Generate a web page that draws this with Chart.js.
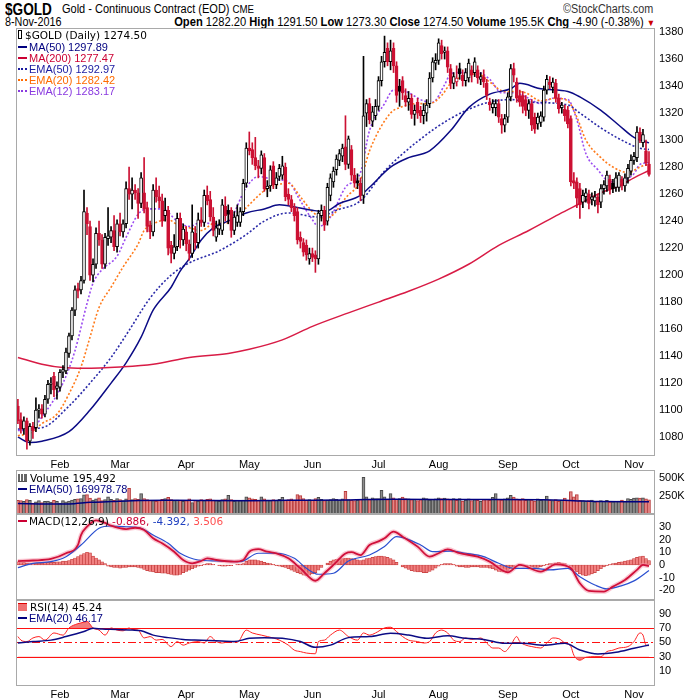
<!DOCTYPE html>
<html>
<head>
<meta charset="utf-8">
<script src="https://cdn.jsdelivr.net/npm/chart.js@4.4.1/dist/chart.umd.min.js"></script>
<style>
body{margin:0;background:#fff;}
#wrap{position:relative;width:700px;height:700px;overflow:hidden;font-family:"Liberation Sans",Arial,sans-serif;color:#000;}
canvas{position:absolute;left:0;}
.t{position:absolute;white-space:nowrap;line-height:1;}
.lg{position:absolute;left:18px;white-space:nowrap;font-size:11px;line-height:12px;}
.big{font-family:"DejaVu Sans",Verdana,sans-serif;font-size:10.5px;}
.sw{display:inline-block;width:9px;height:0;border-top:2px solid;vertical-align:middle;margin-right:2px;position:relative;top:-1px;}
.dot{border-top-style:dotted;}
</style>
</head>
<body>
<div id="wrap">
  <div class="t" style="left:5px;top:1px;font-size:17px;font-weight:bold;transform:scaleX(0.8);transform-origin:left top;">$GOLD</div>
  <div class="t" style="left:62px;top:3px;font-size:12.5px;transform:scaleX(0.88);transform-origin:left top;">Gold - Continuous Contract (EOD) <span style="font-size:11px">CME</span></div>
  <div class="t" style="right:47px;top:3px;font-size:12px;color:#333;transform:scaleX(0.9);transform-origin:right top;">©StockCharts.com</div>
  <div class="t" style="left:5px;top:16px;font-size:12px;transform:scaleX(0.9);transform-origin:left top;">8-Nov-2016</div>
  <div class="t" style="right:45px;top:16px;font-size:12px;transform:scaleX(0.93);transform-origin:right top;"><b>Open</b> 1282.20 <b>High</b> 1291.50 <b>Low</b> 1273.30 <b>Close</b> 1274.50 <b>Volume</b> 195.5K <b>Chg</b> -4.90 (-0.38%) <span style="color:#c00;font-size:9px">▼</span></div>

  <canvas id="priceChart" width="700" height="470" style="top:0"></canvas>
  <canvas id="volChart" width="700" height="44" style="top:470px"></canvas>
  <canvas id="macdChart" width="700" height="86" style="top:514px"></canvas>
  <canvas id="rsiChart" width="700" height="100" style="top:600px"></canvas>

  <div class="lg big" style="top:29px;"><span style="display:inline-block;width:2px;height:7px;border:1px solid #000;margin-right:3px;"></span>$GOLD (Daily) 1274.50</div>
  <div class="lg" style="top:41px;color:#000080;"><span class="sw"></span>MA(50) 1297.89</div>
  <div class="lg" style="top:52px;color:#cc0033;"><span class="sw"></span>MA(200) 1277.47</div>
  <div class="lg" style="top:63px;color:#1a1aa0;"><span class="sw dot"></span>EMA(50) 1292.97</div>
  <div class="lg" style="top:74px;color:#ff6a00;"><span class="sw dot"></span>EMA(20) 1282.42</div>
  <div class="lg" style="top:85px;color:#8a3ae0;"><span class="sw dot"></span>EMA(12) 1283.17</div>

  <div class="lg big" style="top:472px;"><span style="display:inline-block;width:9px;height:7px;border-bottom:1px solid #555;background:linear-gradient(90deg,#666 0 2px,#fff 2px 3px,#666 3px 5px,#fff 5px 6px,#666 6px);margin-right:3px;"></span>Volume 195,492</div>
  <div class="lg" style="top:483px;color:#000080;"><span class="sw"></span>EMA(50) 169978.78</div>

  <div class="lg big" style="top:515px;"><span class="sw" style="color:#cc0033"></span>MACD(12,26,9) <span style="color:#cc0033">-0.886,</span> <span style="color:#2040c0">-4.392,</span> <span style="color:#ff5050">3.506</span></div>

  <div class="lg big" style="top:601px;"><span style="display:inline-block;width:9px;height:7px;background:#f07070;border-top:1px solid #d00;margin-right:3px;"></span>RSI(14) 45.24</div>
  <div class="lg" style="top:612px;color:#000080;"><span class="sw"></span>EMA(20) 46.17</div>
</div>

<script>
// Месяцы на оси X (индекс первого торгового дня месяца)
const monthNames = ['Feb', 'Mar', 'Apr', 'May', 'Jun', 'Jul', 'Aug', 'Sep', 'Oct', 'Nov'];
const monthStart = [14, 34, 56, 77, 98, 120, 140, 163, 184, 205];

// Дневные свечи $GOLD, с 11 янв по 8 ноя 2016
const opens = [
  1103,1093,1086,1092,1077,1088,1087,1100,1101,1097,
  1108,1119,1125,1116,1117,1128,1129,1142,1155,1174,
  1190,1189,1196,1246,1236,1200,1208,1231,1226,1208,
  1227,1228,1233,1221,1238,1232,1238,1264,1260,1263,
  1261,1253,1261,1250,1237,1232,1263,1258,1255,1244,
  1248,1222,1216,1221,1242,1226,1232,1223,1216,1231,
  1224,1241,1239,1259,1256,1243,1228,1234,1233,1251,
  1248,1248,1233,1239,1239,1247,1268,1294,1293,1287,
  1281,1279,1287,1264,1266,1281,1267,1273,1274,1280,
  1260,1256,1250,1247,1228,1224,1222,1212,1216,1215,
  1212,1244,1248,1240,1259,1269,1278,1285,1288,1295,
  1282,1293,1274,1270,1268,1259,1320,1327,1314,1318,
  1325,1344,1358,1368,1358,1368,1355,1340,1344,1333,
  1328,1331,1319,1328,1322,1318,1320,1327,1346,1357,
  1359,1370,1365,1366,1353,1342,1343,1353,1348,1344,
  1346,1352,1350,1352,1345,1347,1342,1328,1324,1324,
  1327,1316,1311,1317,1332,1353,1343,1333,1333,1330,
  1322,1327,1317,1312,1313,1317,1337,1343,1339,1342,
  1331,1324,1323,1322,1316,1270,1269,1264,1254,1258,
  1260,1256,1255,1258,1254,1264,1266,1271,1268,1265,
  1265,1271,1266,1272,1277,1285,1287,1306,1298,1292,
  1282.2
];
const highs = [
  1108,1098,1095,1094,1090,1091,1109,1104,1104,1111,
  1122,1124,1128,1121,1130,1133,1146,1157,1176,1192,
  1194,1199,1263,1250,1240,1212,1235,1240,1230,1231,
  1250,1236,1244,1241,1246,1241,1269,1280,1272,1267,
  1264,1276,1287,1254,1240,1267,1272,1266,1260,1257,
  1251,1225,1230,1246,1246,1238,1236,1226,1252,1236,
  1246,1250,1263,1266,1262,1250,1240,1241,1256,1258,
  1252,1250,1247,1252,1250,1271,1298,1306,1298,1302,
  1285,1292,1290,1270,1281,1284,1276,1282,1288,1283,
  1264,1259,1253,1250,1232,1227,1226,1220,1220,1218,
  1248,1252,1251,1268,1275,1280,1289,1293,1297,1318,
  1303,1296,1279,1275,1272,1362,1330,1331,1325,1330,
  1347,1362,1377,1372,1374,1372,1358,1345,1347,1338,
  1336,1334,1326,1331,1325,1327,1330,1350,1361,1364,
  1375,1374,1369,1369,1356,1350,1355,1357,1352,1353,
  1360,1355,1361,1355,1350,1352,1345,1331,1330,1330,
  1330,1319,1319,1335,1356,1357,1346,1337,1336,1333,
  1330,1330,1320,1320,1321,1340,1348,1347,1346,1345,
  1334,1328,1326,1325,1318,1276,1272,1268,1263,1264,
  1263,1261,1262,1260,1267,1270,1277,1274,1271,1276,
  1276,1273,1275,1282,1289,1291,1310,1309,1308,1300,
  1291.5
];
const lows = [
  1090,1083,1082,1071,1074,1079,1084,1094,1094,1095,
  1105,1112,1110,1108,1114,1124,1127,1139,1152,1170,
  1183,1186,1194,1230,1196,1195,1205,1222,1205,1205,
  1222,1224,1218,1217,1229,1228,1235,1256,1249,1256,
  1242,1250,1246,1232,1227,1229,1254,1250,1236,1240,
  1215,1209,1212,1218,1220,1222,1218,1211,1213,1219,
  1220,1236,1236,1252,1240,1229,1225,1230,1230,1240,
  1238,1228,1230,1236,1236,1244,1265,1289,1282,1278,
  1272,1275,1262,1258,1262,1264,1264,1270,1271,1255,
  1252,1247,1240,1223,1220,1214,1211,1208,1210,1202,
  1208,1240,1233,1237,1255,1265,1274,1281,1284,1278,
  1279,1270,1265,1264,1255,1253,1310,1312,1310,1315,
  1322,1340,1354,1355,1352,1350,1328,1325,1330,1325,
  1322,1316,1311,1316,1313,1312,1314,1324,1343,1352,
  1356,1360,1360,1350,1338,1338,1340,1345,1340,1340,
  1343,1343,1347,1342,1341,1339,1330,1322,1320,1318,
  1313,1305,1306,1313,1329,1343,1328,1325,1320,1318,
  1316,1307,1305,1308,1310,1314,1334,1338,1335,1328,
  1320,1320,1314,1309,1266,1264,1250,1242,1250,1254,
  1249,1252,1251,1246,1250,1260,1262,1260,1261,1262,
  1262,1263,1262,1268,1274,1282,1284,1298,1295,1281,
  1273.3
];
const closes = [
  1092,1086,1092,1077,1088,1085,1100,1101,1097,1108,
  1119,1120,1115,1118,1128,1130,1143,1155,1174,1189,
  1188,1196,1247,1238,1200,1208,1231,1226,1208,1228,
  1229,1233,1221,1238,1232,1238,1264,1260,1263,1261,
  1253,1272,1249,1236,1232,1263,1258,1255,1240,1248,
  1220,1216,1221,1242,1226,1234,1223,1216,1232,1224,
  1241,1239,1259,1255,1243,1233,1235,1237,1252,1244,
  1245,1233,1243,1244,1247,1268,1294,1292,1287,1281,
  1279,1289,1264,1266,1278,1267,1272,1279,1281,1258,
  1256,1250,1244,1226,1225,1217,1215,1216,1213,1212,
  1246,1248,1237,1265,1272,1277,1286,1290,1294,1282,
  1301,1274,1268,1268,1259,1318,1327,1315,1321,1325,
  1344,1358,1365,1358,1366,1355,1333,1336,1335,1328,
  1331,1319,1322,1320,1318,1322,1326,1346,1358,1359,
  1372,1364,1366,1354,1342,1347,1346,1349,1344,1350,
  1357,1348,1358,1346,1347,1343,1333,1326,1327,1327,
  1317,1311,1316,1332,1353,1348,1331,1328,1325,1322,
  1327,1311,1308,1317,1318,1337,1345,1341,1343,1331,
  1323,1326,1318,1312,1269,1268,1257,1252,1259,1261,
  1253,1258,1258,1252,1264,1267,1274,1264,1264,1272,
  1274,1266,1272,1279,1285,1288,1306,1300,1304,1283,
  1274.5
];

// Скользящие средние: [день, значение]
const ma50 = [[0,1080],[4,1076],[8,1077],[17,1084],[24,1100],[31,1120],[36,1135],[41,1154],[45,1174],[51,1191],[54,1203],[57,1212],[61,1226],[65,1235],[70,1240],[76,1246],[82,1249],[87,1252],[93,1250],[98,1248],[102,1247],[107,1253],[114,1259],[117,1265],[124,1280],[130,1287],[137,1292],[144,1307],[150,1324],[157,1334],[164,1338],[167,1342],[174,1338],[183,1336],[187,1332],[194,1322],[200,1311],[205,1302],[210,1297.89]];
const ma200 = [[0,1139],[8,1134],[15,1131.5],[22,1131],[34,1132],[45,1134],[57,1139],[70,1142],[77,1145],[88,1152],[98,1162],[110,1172],[120,1180],[130,1188],[140,1197],[150,1208],[160,1222],[170,1233],[180,1245],[187,1253],[194,1261],[200,1266],[205,1272],[210,1277.47]];
const ema50 = [[0,1086],[8,1087],[17,1103],[24,1120],[31,1139],[37,1159],[44,1183],[51,1200],[57,1209],[67,1218],[76,1230],[82,1240],[90,1246],[100,1243],[106,1248],[114,1255],[122,1277],[133,1299],[144,1316],[155,1327],[164,1330],[171,1328],[183,1326],[187,1320],[194,1309],[200,1301],[207,1294],[210,1292.97]];
const ema20 = [[0,1081],[4,1083],[8,1090],[13,1097],[17,1112],[21,1132],[24,1154],[27,1176],[31,1191],[35,1206],[40,1223],[42,1233],[46,1239],[50,1241],[54,1236],[57,1235],[61,1233],[65,1238],[71,1239],[76,1250],[83,1264],[90,1268],[94,1258],[98,1247],[102,1242],[105,1245],[109,1257],[114,1270],[117,1292],[124,1320],[127,1324],[133,1327],[137,1327],[141,1333],[144,1342],[148,1347],[153,1349],[157,1343],[162,1336],[165,1336],[169,1335],[174,1329],[179,1331],[183,1329],[186,1317],[189,1300],[194,1287],[198,1280],[203,1276],[207,1280],[210,1282.42]];
const ema12 = [[0,1085],[4,1085],[8,1095],[15,1120],[19,1144],[23,1179],[25,1194],[28,1204],[33,1214],[36,1228],[40,1245],[43,1249],[48,1249],[53,1240],[57,1236],[61,1239],[65,1238],[70,1240],[76,1265],[80,1273],[85,1271],[90,1269],[94,1255],[98,1241],[100,1236],[104,1243],[109,1265],[114,1276],[117,1307],[122,1327],[125,1337],[129,1336],[135,1329],[138,1328],[142,1341],[144,1349],[147,1350],[153,1350],[157,1345],[161,1335],[165,1335],[169,1332],[174,1327],[178,1331],[183,1330],[186,1315],[189,1290],[193,1278],[197,1269],[201,1270],[205,1275],[207,1282],[210,1283.17]];

// Объём, тыс.
const volumes = [
  190,185,175,200,190,150,170,185,160,175,
  180,165,190,175,150,185,170,180,195,205,
  210,215,265,270,220,195,210,225,185,200,
  240,205,190,215,200,185,210,355,200,215,
  205,285,215,200,190,185,175,190,205,215,
  230,200,185,195,190,175,185,210,160,190,
  180,200,185,205,210,195,185,175,200,210,
  260,200,175,190,185,195,240,225,210,205,
  195,240,210,195,185,200,190,205,230,190,
  200,210,195,270,255,215,195,200,190,215,
  230,205,185,195,200,215,205,195,210,315,
  200,190,185,195,205,510,240,200,225,215,
  215,330,240,200,285,225,205,215,235,215,
  210,200,205,185,200,225,215,195,205,210,
  225,215,220,210,200,215,190,215,180,195,
  210,185,200,190,175,200,205,190,230,285,
  200,195,210,225,260,235,210,195,215,190,
  200,195,180,210,190,205,250,195,185,200,
  175,190,220,195,310,240,270,190,185,180,
  185,195,170,180,185,175,190,165,170,175,
  180,195,180,215,205,220,225,220,225,210,
  195.5
];
const volEma = [[0,145],[10,140],[17,140],[24,162],[31,172],[38,185],[50,190],[77,185],[90,190],[110,195],[125,205],[150,200],[175,198],[185,185],[195,172],[205,170],[210,170]];

// MACD(12,26,9)
const macdLine = [[0,3],[5,3.5],[11,4.7],[16,9.2],[20,15.7],[21,23.5],[23,30],[26,35],[29,33],[31,30.8],[36,28.2],[39,29.2],[42,27.5],[45,20.9],[48,17],[52,10.4],[55,3.9],[58,1.3],[61,3.1],[63,5.2],[66,3.9],[72,2.6],[75,3.9],[77,10.4],[80,12.4],[83,10.4],[86,9.1],[90,5.2],[94,-2.6],[99,-12.4],[102,-6.5],[105,0],[109,9],[111,10],[114,7.8],[117,15.7],[120,18.5],[122,20.9],[125,26.1],[128,22.2],[133,14.4],[137,6.5],[140,9.2],[143,12.3],[147,9.2],[153,6.5],[157,2.6],[163,-5.7],[167,0],[174,-5.2],[179,0.5],[184,-2.6],[187,-14.4],[190,-20.4],[195,-20.9],[198,-17],[202,-11.8],[206,-3.9],[208,0],[210,-0.886]];
const signalLine = [[0,-2.1],[5,1.3],[11,2.6],[16,6.5],[21,15.7],[27,28.8],[31,30.6],[36,30],[41,28.8],[45,23.5],[50,17],[54,9.2],[60,3.9],[66,3.1],[74,2.6],[80,9.2],[86,9.2],[92,5.2],[96,-2.6],[100,-7.3],[105,-6.5],[110,3.1],[117,7.8],[122,14.4],[126,22.2],[129,20.9],[134,15.7],[138,10.5],[144,10.9],[149,9.2],[155,6.5],[160,1.3],[165,-2.6],[172,-2.6],[177,-3.9],[183,-2.6],[187,-9.2],[192,-15.7],[196,-18.8],[201,-16.2],[205,-12.5],[210,-4.392]];
const macdHist = [
  2.5,2.5,2,1.5,1,1,1.5,
  1.5,1.5,2,2,2,2,2.5,2.5,3,3,3.5,
  4.5,5.5,6.5,8,9,10,9.5,
  7,5.5,4,2.5,1,
  -1,-1.5,-2,-2,-2.5,-2,-2,-1.5,-1.5,-1.5,-2,
  -2.5,-3.5,-4.5,-5,-5.5,-6,-6,-6.5,-6.5,-7,-7.5,-8,-8,-7.5,-6,
  -5,-4,-3,-2,-1,-0.5,0.5,
  1,1,0.5,0,-0.5,-1,-1,-0.5,-0.5,0,0.5,0.5,1,
  3,4,4,4,3.5,3,2,1.5,1,0.5,
  -0.5,-1,-1.5,-2,-3,-4,-5,-6,-7,-8,-8.5,-8,-7,-6,
  -4,-2,0,1.5,3,4,4.5,5,5,5.5,5.5,
  5,4.5,4,3.5,4,5,5.5,6,6.5,7,7,6.5,6,5,4,
  2,0,-1.5,-2.5,-3.5,-4.5,-5,-5.5,-5.5,-6,-6,-5,-4,-2.5,-1,
  0.5,1,1,1,0.5,-1,-1.5,
  -1.5,-2,-2,-1.5,-1.5,-1.5,-2,-2,-2,-2.5,-3,
  -4,-5,-5.5,-5.5,-4.5,-3,-1.5,0,
  0.5,0,-0.5,-1,-1.5,-2,-2,-1.5,-0.5,0.5,1,1,
  1.5,2,1.5,1,0,
  -2,-4,-5.5,-7,-8,-8.5,-8,-7,-6,-4.5,-3,-1.5,-0.5,
  0.5,1,1.5,2,2.5,3,3.5,4,5,6,6.5,7,5,3.506
];

// RSI(14) и его EMA(20)
const rsiLine = [[0,58],[1,53],[3,51],[5,56],[7,58],[9,53],[12,63],[15,60],[17,70],[20,76],[21,77],[23,79],[25,70],[27,67],[29,60],[31,70],[33,67],[35,66],[37,70],[38,68],[40,67],[42,56],[44,58],[46,53],[48,54],[51,44],[53,51],[55,46],[57,49],[60,51],[62,49],[64,58],[66,51],[68,49],[71,51],[73,50],[76,67],[78,63],[81,60],[83,58],[85,56],[87,53],[90,46],[92,39],[94,37],[96,35],[99,34],[100,51],[102,53],[104,60],[107,67],[110,58],[113,53],[115,63],[117,60],[119,63],[122,70],[124,71],[126,65],[128,58],[130,53],[133,51],[135,49],[137,51],[139,63],[141,67],[143,63],[145,53],[147,51],[149,56],[151,54],[154,56],[156,49],[158,42],[160,42],[162,37],[164,46],[166,58],[167,51],[169,46],[171,44],[174,42],[176,49],[178,56],[180,55],[182,49],[184,44],[185,32],[187,25],[189,29],[192,30],[194,30],[196,37],[198,39],[200,42],[203,44],[205,51],[207,63],[208,60],[209,46],[210,45.24]];
const rsiEma = [[0,49],[5,51],[11,53],[16,58],[22,65],[25,69.5],[28,68.6],[33,68],[38,67],[41,66],[45,60],[50,56.5],[55,54],[61,53],[66,52],[72,51],[77,55.6],[82,56.5],[88,55.6],[94,51],[99,43],[104,46],[110,56.5],[117,58],[124,62.6],[130,60],[136,55.6],[143,59],[149,55.6],[155,54],[162,48.6],[168,48.6],[175,46],[182,48.6],[187,39.3],[193,33.7],[199,36],[205,41.6],[210,46.17]];
const rsiLevels = [70, 30];

// Деления осей Y
const priceTicks = [1080,1100,1120,1140,1160,1180,1200,1220,1240,1260,1280,1300,1320,1340,1360,1380];
const volTicks = [250, 500];
const macdTicks = [-20, -10, 0, 10, 20, 30];
const rsiTicks = [10, 30, 50, 70, 90];

const X_MIN = -0.63, X_MAX = 212;
const RED = '#cc1133';

function pts(arr) {
  return arr.map(p => ({ x: p[0], y: p[1] }));
}
function isDown(i) {
  return closes[i] < (i > 0 ? closes[i - 1] : opens[i]);
}

// Рамка вокруг области графика
const frame = {
  id: 'frame',
  afterDraw(chart) {
    const a = chart.chartArea, ctx = chart.ctx;
    ctx.save();
    ctx.strokeStyle = '#a9a9a9';
    ctx.lineWidth = 1;
    ctx.strokeRect(a.left + 0.5, a.top + 0.5, a.right - a.left - 1, a.bottom - a.top - 1);
    ctx.restore();
  }
};

// Горизонтальные уровни RSI
const rsiGuides = {
  id: 'rsiGuides',
  beforeDatasetsDraw(chart) {
    const a = chart.chartArea, ctx = chart.ctx, y = chart.scales.y;
    ctx.save();
    ctx.strokeStyle = '#ff1010';
    ctx.lineWidth = 1.2;
    rsiLevels.forEach(v => {
      const py = Math.round(y.getPixelForValue(v)) + 0.5;
      ctx.beginPath(); ctx.moveTo(a.left, py); ctx.lineTo(a.right, py); ctx.stroke();
    });
    ctx.setLineDash([8, 3, 2, 3]);
    const pm = Math.round(y.getPixelForValue(50)) + 0.5;
    ctx.beginPath(); ctx.moveTo(a.left, pm); ctx.lineTo(a.right, pm); ctx.stroke();
    ctx.restore();
  }
};

function xAxis(show) {
  const axis = {
    type: 'linear', min: X_MIN, max: X_MAX, offset: false, display: show,
    grid: { display: false, drawTicks: false },
    border: { display: false },
    afterBuildTicks: s => { s.ticks = monthStart.map(v => ({ value: v })); },
    ticks: {
      autoSkip: false, maxRotation: 0, padding: 2, color: '#000',
      font: { family: 'Liberation Sans', size: 11 },
      callback: v => monthNames[monthStart.indexOf(v)]
    }
  };
  if (show) axis.afterFit = s => { s.height = 14; s.paddingLeft = 0; s.paddingRight = 0; };
  return axis;
}
function yAxis(min, max, tickList, fmt) {
  return {
    position: 'right', min: min, max: max,
    grid: { display: false, drawTicks: false },
    border: { display: false },
    afterBuildTicks: s => { s.ticks = tickList.map(v => ({ value: v })); },
    // фиксированная ширина оси и без запаса по вертикали под подписи
    afterFit: s => { s.width = 45; s.paddingTop = 0; s.paddingBottom = 0; },
    ticks: {
      autoSkip: false, padding: 4, color: '#000',
      font: { family: 'Liberation Sans', size: 11 },
      callback: fmt || (v => v)
    }
  };
}
function baseOptions(scales, padTop) {
  return {
    responsive: false,
    animation: false,
    layout: { padding: { left: 16, right: 0, top: padTop, bottom: 0 } },
    plugins: { legend: { display: false }, tooltip: { enabled: false } },
    scales: scales
  };
}
function lineSet(arr, color, width, dash, order) {
  return {
    type: 'line', data: pts(arr), borderColor: color, borderWidth: width,
    borderDash: dash || [], pointRadius: 0, fill: false, order: order,
    cubicInterpolationMode: 'monotone'
  };
}

// Ценовой график со свечами
function renderPrice() {
  const wickColor = ctx => (ctx.dataIndex === undefined ? '#000' : (isDown(ctx.dataIndex) ? RED : '#000'));
  const bodyFill = ctx => {
    const i = ctx.dataIndex;
    if (i === undefined) return '#fff';
    return closes[i] < opens[i] ? (isDown(i) ? RED : '#000') : '#fff';
  };
  new Chart(document.getElementById('priceChart'), {
    type: 'bar',
    data: {
      datasets: [
        lineSet(ma200, '#d81b45', 1.5, null, 3),
        lineSet(ma50, '#0b0b85', 1.5, null, 3),
        lineSet(ema50, '#2a2aa8', 1.6, [2, 2], 3),
        lineSet(ema20, '#ff7a1a', 1.6, [2, 2], 3),
        lineSet(ema12, '#9b4cf0', 1.6, [2, 2], 3),
        {
          type: 'bar', data: highs.map((h, i) => ({ x: i, y: [lows[i], h] })),
          barThickness: 1, backgroundColor: wickColor, grouped: false, order: 1
        },
        {
          type: 'bar', data: opens.map((o, i) => ({ x: i, y: [o, closes[i]] })),
          barThickness: 3, backgroundColor: bodyFill, borderColor: wickColor,
          borderWidth: 1, borderSkipped: false, minBarLength: 1, grouped: false, order: 0
        }
      ]
    },
    options: baseOptions({ x: xAxis(true), y: yAxis(1066, 1383, priceTicks) }, 28),
    plugins: [frame]
  });
}

// Объём
function renderVolume() {
  new Chart(document.getElementById('volChart'), {
    type: 'bar',
    data: {
      datasets: [
        lineSet(volEma, '#000080', 1.5, null, 0),
        {
          type: 'bar', data: volumes.map((v, i) => ({ x: i, y: v })),
          barThickness: 3, borderWidth: 1, borderSkipped: 'bottom', order: 1,
          backgroundColor: ctx => (ctx.dataIndex !== undefined && isDown(ctx.dataIndex) ? '#e48888' : '#8c8c8c'),
          borderColor: ctx => (ctx.dataIndex !== undefined && isDown(ctx.dataIndex) ? '#b83a3a' : '#4a4a4a')
        }
      ]
    },
    options: baseOptions({ x: xAxis(false), y: yAxis(0, 611, volTicks, v => v + 'K') }, 0),
    plugins: [frame]
  });
}

// MACD
function renderMacd() {
  new Chart(document.getElementById('macdChart'), {
    type: 'bar',
    data: {
      datasets: [
        {
          type: 'bar', data: macdHist.map((v, i) => ({ x: i, y: v })),
          barThickness: 3, backgroundColor: '#f08080', borderColor: '#c43a3a',
          borderWidth: 0.7, borderSkipped: false, order: 3
        },
        lineSet(macdLine, 'rgba(245,150,170,0.55)', 4.5, null, 2),
        lineSet(signalLine, '#2a4fd0', 1.2, null, 1),
        lineSet(macdLine, '#d0103a', 1.8, null, 0)
      ]
    },
    options: baseOptions({ x: xAxis(false), y: yAxis(-27.5, 40, macdTicks) }, 0),
    plugins: [frame]
  });
}

// RSI
function renderRsi() {
  const rsiFillHigh = lineSet(rsiLine, '#ff2020', 1, null, 1);
  rsiFillHigh.fill = { target: { value: 70 }, above: 'rgba(240,100,100,0.85)', below: 'rgba(0,0,0,0)' };
  const rsiFillLow = lineSet(rsiLine, 'rgba(0,0,0,0)', 0, null, 2);
  rsiFillLow.fill = { target: { value: 30 }, above: 'rgba(0,0,0,0)', below: 'rgba(240,100,100,0.85)' };
  new Chart(document.getElementById('rsiChart'), {
    type: 'line',
    data: {
      datasets: [
        rsiFillLow,
        rsiFillHigh,
        lineSet(rsiEma, '#0b0b85', 1.5, null, 0)
      ]
    },
    options: baseOptions({ x: xAxis(true), y: yAxis(-11, 109, rsiTicks) }, 0),
    plugins: [frame, rsiGuides]
  });
}

renderPrice();
renderVolume();
renderMacd();
renderRsi();
</script>
</body>
</html>
